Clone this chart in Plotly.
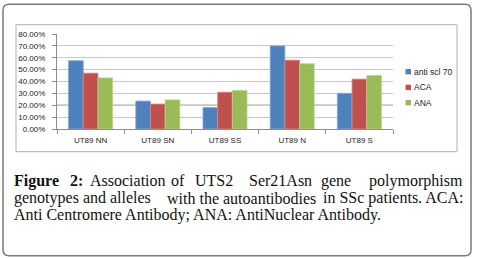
import plotly.graph_objects as go

categories = ["UT89 NN", "UT89 SN", "UT89 SS", "UT89 N", "UT89 S"]
series_names = ["anti scl 70", "ACA", "ANA"]
anti_scl_70 = [0.575, 0.235, 0.18, 0.70, 0.30]
aca = [0.47, 0.21, 0.31, 0.58, 0.42]
ana = [0.43, 0.245, 0.325, 0.55, 0.45]
y_ticks = [0, 0.1, 0.2, 0.3, 0.4, 0.5, 0.6, 0.7, 0.8]
colors = ["#4F81BD", "#C0504D", "#9BBB59"]
edge_colors = ["#7EA3D4", "#D98583", "#B9D18A"]

W, H = 477, 258
PL, PR, PT, PB = 57, 393, 34.3, 129.3


def px(x):
    return (x - PL) / (PR - PL)


def py(y):
    return (PB - y) / (PB - PT)


fig = go.Figure()
for name, vals, c, ec in zip(series_names, [anti_scl_70, aca, ana], colors, edge_colors):
    fig.add_trace(go.Bar(x=categories, y=vals, name=name, marker=dict(color=c, line=dict(color=ec, width=0.8)),
                         showlegend=False))

shapes = []


def rounded_rect(x0, y0, x1, y1, r):
    pts = [
        f"M {px(x0 + r)},{py(y0)}",
        f"L {px(x1 - r)},{py(y0)}",
        f"Q {px(x1)},{py(y0)} {px(x1)},{py(y0 + r)}",
        f"L {px(x1)},{py(y1 - r)}",
        f"Q {px(x1)},{py(y1)} {px(x1 - r)},{py(y1)}",
        f"L {px(x0 + r)},{py(y1)}",
        f"Q {px(x0)},{py(y1)} {px(x0)},{py(y1 - r)}",
        f"L {px(x0)},{py(y0 + r)}",
        f"Q {px(x0)},{py(y0)} {px(x0 + r)},{py(y0)}",
        "Z",
    ]
    return " ".join(pts)


shapes.append(dict(type="path", xref="paper", yref="paper", path=rounded_rect(3, 4.5, 471, 256, 6),
                   line=dict(color="#7a7a7a", width=1.5), layer="above"))
shapes.append(dict(type="rect", xref="paper", yref="paper", x0=px(16), x1=px(457), y0=py(25), y1=py(152),
                   line=dict(color="#b0b0b0", width=1), layer="above"))
# darker 20% line
shapes.append(dict(type="line", xref="x domain", yref="y", x0=0, x1=1, y0=0.2, y1=0.2,
                   line=dict(color="#505050", width=1), layer="below"))

annotations = []
# manual legend
leg_y = [72, 87.7, 103]
for name, c, yy in zip(series_names, colors, leg_y):
    shapes.append(dict(type="rect", xref="paper", yref="paper", x0=px(405.5), x1=px(411), y0=py(yy - 2.7), y1=py(yy + 2.7),
                       fillcolor=c, line=dict(width=0), layer="above"))
    annotations.append(dict(xref="paper", yref="paper", x=px(411.5), y=py(yy), text=name, showarrow=False,
                            xanchor="left", yanchor="middle", font=dict(family="Liberation Sans", size=8.5, color="#222")))

# caption (justified lines placed in pieces)
cap_font = dict(family="Liberation Serif", size=16, color="#111")
line1 = [("<b>Figure</b>", 12, "left"), ("<b>2:</b>", 68, "left"), ("Association", 88, "left"), ("of", 169, "left"),
         ("UTS2", 193, "left"), ("Ser21Asn", 247, "left"), ("gene", 319, "left"), ("polymorphism", 465, "right")]
line2 = [("genotypes and alleles", 12, "left"), ("with the autoantibodies", 164.5, "left"),
         ("in SSc patients. ACA:", 465, "right")]
for words, yy in ((line1, 181), (line2, 198.5)):
    for t, x, anc in words:
        annotations.append(dict(xref="paper", yref="paper", x=px(x), y=py(yy), text=t, showarrow=False,
                                xanchor=anc, yanchor="middle", font=cap_font))
annotations.append(dict(xref="paper", yref="paper", x=px(12), y=py(215.5),
                        text="Anti Centromere Antibody; ANA: AntiNuclear Antibody.",
                        showarrow=False, xanchor="left", yanchor="middle", font=cap_font))

fig.update_layout(
    template="none",
    width=W, height=H,
    margin=dict(l=PL, r=W - PR, t=PT, b=H - PB, pad=0),
    paper_bgcolor="white", plot_bgcolor="rgba(0,0,0,0)",
    barmode="group", bargap=0.345, bargroupgap=0,
    shapes=shapes, annotations=annotations,
    xaxis=dict(showline=True, linecolor="#8c8c8c", linewidth=1, ticks="outside", tickson="boundaries",
               ticklen=4, tickcolor="#8c8c8c", showgrid=False, automargin=False, ticklabelstandoff=3,
               tickfont=dict(family="Liberation Sans", size=8, color="#222")),
    yaxis=dict(range=[0, 0.8], tickvals=y_ticks, tickformat=".2%", showline=True, linecolor="#8c8c8c",
               linewidth=1, ticks="outside", ticklen=4, tickcolor="#8c8c8c", gridcolor="#c8c8c8",
               gridwidth=1, zeroline=False, automargin=False, ticklabelstandoff=5,
               tickfont=dict(family="Liberation Sans", size=8, color="#222")),
)

fig.write_html("out.html", config={"displayModeBar": False},
               post_script="document.body.style.margin='0';document.body.style.padding='0';document.body.style.overflow='hidden';")
